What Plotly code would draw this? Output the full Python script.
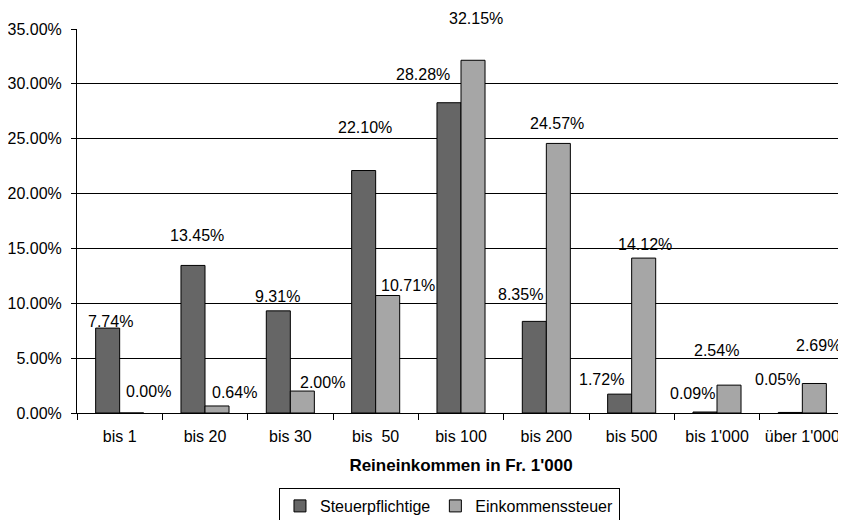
import plotly.graph_objects as go

categories = ["bis 1", "bis 20", "bis 30", "bis\u00a0\u00a050", "bis 100", "bis 200", "bis 500", "bis 1'000", "über 1'000"]
steuerpflichtige = [7.74, 13.45, 9.31, 22.10, 28.28, 8.35, 1.72, 0.09, 0.05]
einkommenssteuer = [0.00, 0.64, 2.00, 10.71, 32.15, 24.57, 14.12, 2.54, 2.69]
y_ticks = [0, 5, 10, 15, 20, 25, 30, 35]

# label offsets (pixels) relative to each bar top centre, as placed in the original
dark_dx = [3, 4, -0.5, 1, -26, -14, -18, -13, -13]
dark_dy = [6.5, 30, 14, 43.5, 28, 26.5, 14.5, 19, 33]
light_dx = [17, 17, 20, 20, 2.5, -1.5, 1, -13, 4.5]
light_dy = [21.5, 13.5, 8.5, 10.5, 42, 20, 14, 35, 38]

FONT = "Liberation Sans, Arial, sans-serif"
DARK = "#666666"
LIGHT = "#a6a6a6"

fig = go.Figure()
fig.add_trace(go.Bar(x=categories, y=steuerpflichtige, name="Steuerpflichtige",
                     marker=dict(color=DARK, line=dict(color="black", width=1)),
                     offsetgroup="a"))
fig.add_trace(go.Bar(x=categories, y=einkommenssteuer, name="Einkommenssteuer",
                     marker=dict(color=LIGHT, line=dict(color="black", width=1)),
                     offsetgroup="b"))

BAR_HALF = 12  # pixel offset of each bar centre from the category centre
for i, c in enumerate(categories):
    fig.add_annotation(x=c, y=steuerpflichtige[i], text=f"{steuerpflichtige[i]:.2f}%",
                       showarrow=False, xshift=-BAR_HALF + dark_dx[i], yshift=dark_dy[i],
                       yanchor="middle", xanchor="center",
                       font=dict(family=FONT, size=16, color="black"))
    fig.add_annotation(x=c, y=einkommenssteuer[i], text=f"{einkommenssteuer[i]:.2f}%",
                       showarrow=False, xshift=BAR_HALF + light_dx[i], yshift=light_dy[i],
                       yanchor="middle", xanchor="center",
                       font=dict(family=FONT, size=16, color="black"))

# the page adds an 8px body margin, so the figure is 8px smaller than the window
fig.update_layout(
    width=838, height=512,
    margin=dict(l=69, r=1, t=21, b=107, autoexpand=False),
    paper_bgcolor="white", plot_bgcolor="white",
    barmode="group", bargap=0.437, bargroupgap=0,
    font=dict(family=FONT, size=16, color="black"),
    showlegend=True,
    legend=dict(orientation="h", x=0.485, xanchor="center", y=-0.1953, yanchor="top",
                bordercolor="black", borderwidth=1, bgcolor="white",
                font=dict(family=FONT, size=16, color="black"),
                itemwidth=30, tracegroupgap=0),
    xaxis=dict(type="category", showline=True, linecolor="black", linewidth=1,
               ticks="outside", ticklen=6, tickcolor="black", tickson="boundaries",
               ticklabelstandoff=9,
               showgrid=False, zeroline=False, automargin=False,
               tickfont=dict(family=FONT, size=16, color="black"),
               title=dict(text="<b>Reineinkommen in Fr. 1'000</b>", standoff=14,
                          font=dict(family=FONT, size=17, color="black"))),
    yaxis=dict(range=[0, 35], tickvals=y_ticks,
               ticktext=[f"{v:.2f}%" for v in y_ticks],
               showline=True, linecolor="black", linewidth=1,
               ticks="outside", ticklen=5, tickcolor="black", ticklabelstandoff=6,
               showgrid=True, gridcolor="black", gridwidth=1, zeroline=False,
               automargin=False,
               tickfont=dict(family=FONT, size=16, color="black")),
)

fig.write_html("out.html")
